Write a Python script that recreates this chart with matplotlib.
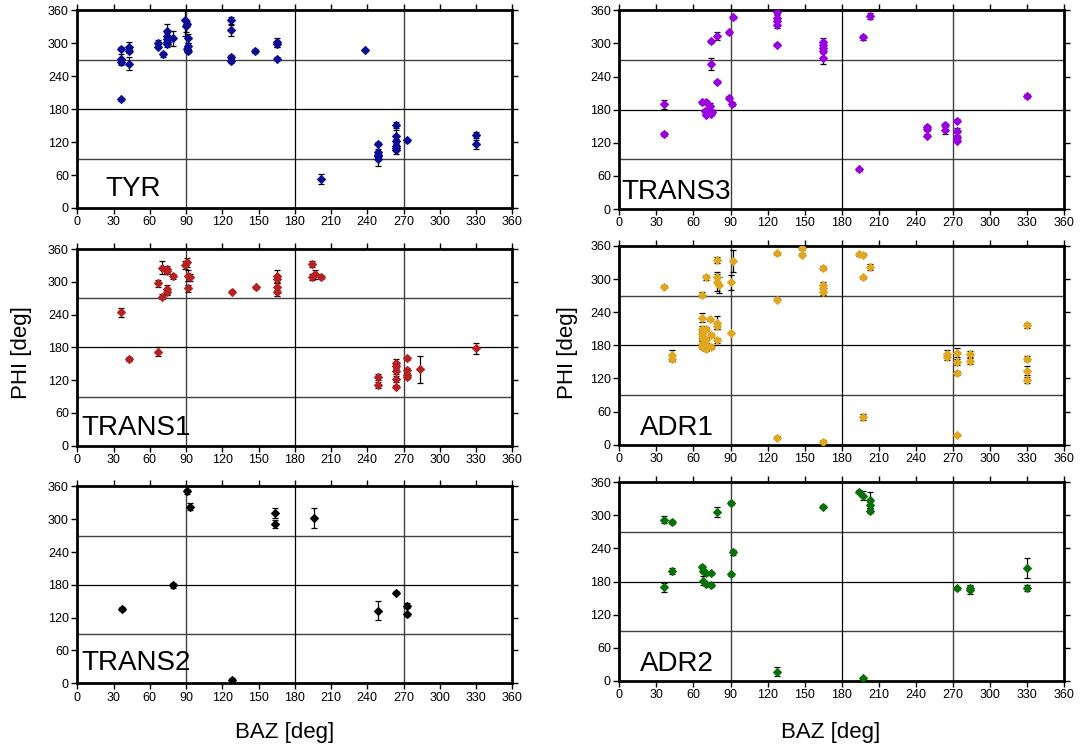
import matplotlib
matplotlib.use('Agg')
import matplotlib.pyplot as plt
import numpy as np

plt.rcParams['font.family'] = ['Liberation Sans', 'DejaVu Sans']

# ---- data: back azimuth, phi, phi error ----
tyr_baz = [36, 36, 36, 36, 43, 43, 43, 67, 67, 71, 74, 74, 74, 74, 74, 79, 89, 90, 91, 92, 92, 91, 92,
           127, 127, 127, 127, 147, 165, 165, 165, 202, 238, 249, 249, 249, 249, 249,
           264, 264, 264, 264, 264, 264, 273, 330, 330]
tyr_phi = [290, 271, 266, 198, 294, 286, 263, 300, 294, 280, 322, 314, 308, 303, 298, 309, 342, 331, 336, 309, 295, 289, 286,
           342, 324, 275, 268, 286, 302, 298, 272, 53, 288, 117, 102, 97, 94, 89,
           151, 132, 122, 113, 110, 106, 123, 133, 116]
tyr_err = [3, 10, 4, 3, 8, 4, 12, 6, 3, 5, 13, 5, 4, 4, 4, 14, 28, 10, 5, 8, 5, 4, 4,
           6, 10, 4, 4, 3, 8, 4, 3, 9, 2, 3, 5, 5, 5, 12,
           5, 10, 4, 4, 5, 8, 3, 5, 8]

trans3_baz = [36, 36, 67, 70, 73, 69, 72, 75, 70, 74, 74, 74, 79, 79, 89, 92, 89, 91,
              128, 128, 128, 128, 128, 165, 165, 165, 165, 165, 194, 197, 203,
              249, 249, 249, 264, 264, 273, 273, 273, 273, 330]
trans3_phi = [190, 136, 193, 194, 187, 177, 177, 176, 171, 173, 263, 304, 313, 231, 320, 347, 201, 190,
              357, 346, 340, 334, 298, 303, 297, 291, 287, 273, 72, 311, 350,
              148, 145, 133, 152, 144, 160, 142, 130, 124, 205]
trans3_err = [8, 3, 3, 3, 5, 5, 5, 4, 3, 3, 11, 3, 7, 3, 3, 2, 4, 3,
              4, 5, 6, 6, 3, 7, 5, 5, 5, 10, 3, 4, 6,
              4, 4, 3, 4, 8, 3, 4, 4, 3, 3]

trans1_baz = [36, 43, 67, 70, 74, 74, 79, 67, 74, 74, 70, 91, 89, 92, 93, 92, 128, 148,
              165, 165, 165, 165, 194, 194, 197, 202, 249, 249, 264, 264, 264, 264, 264,
              273, 273, 273, 273, 284, 330]
trans1_phi = [244, 159, 172, 326, 323, 319, 310, 297, 286, 282, 273, 336, 331, 311, 308, 288, 282, 290,
              310, 305, 291, 282, 333, 309, 314, 309, 126, 111, 152, 146, 137, 122, 108,
              160, 138, 129, 125, 140, 178]
trans1_err = [9, 3, 8, 12, 6, 5, 5, 7, 8, 6, 4, 8, 7, 10, 6, 6, 3, 3,
              12, 6, 6, 8, 5, 5, 8, 3, 5, 5, 6, 5, 5, 6, 3,
              3, 5, 4, 3, 25, 10]

adr1_baz = [36, 43, 43, 67, 70, 79, 79, 81, 79, 92, 90, 90, 67, 73, 79, 79, 67, 70, 67, 74,
            67, 70, 79, 67, 70, 74, 67, 70, 128, 128, 128, 148, 148, 165, 165, 165, 165, 165,
            194, 197, 197, 203, 197, 265, 265, 273, 273, 273, 273, 284, 284, 330, 330, 330, 330]
adr1_phi = [286, 162, 156, 272, 303, 335, 303, 289, 294, 333, 294, 203, 230, 227, 221, 215, 210, 210, 201, 199,
            193, 189, 189, 183, 180, 177, 177, 173, 347, 13, 263, 356, 344, 320, 289, 283, 277, 4,
            345, 344, 303, 322, 50, 164, 158, 167, 150, 130, 17, 164, 152, 216, 156, 134, 117]
adr1_err = [3, 10, 4, 4, 5, 5, 10, 15, 15, 20, 13, 2, 8, 3, 12, 5, 5, 4, 5, 3,
            4, 4, 5, 5, 4, 4, 4, 3, 3, 2, 2, 4, 3, 4, 6, 5, 5, 5,
            3, 3, 3, 5, 5, 7, 5, 8, 6, 4, 2, 6, 5, 5, 4, 8, 5]

trans2_baz = [37, 79, 91, 93, 128, 164, 164, 196, 249, 264, 273, 273]
trans2_phi = [136, 179, 351, 323, 6, 311, 291, 302, 133, 166, 142, 126]
trans2_err = [3, 4, 4, 6, 4, 9, 7, 18, 17, 2, 5, 3]

adr2_baz = [36, 43, 36, 43, 79, 90, 92, 90, 67, 68, 70, 74, 68, 70, 74, 128, 165,
            194, 197, 203, 203, 203, 197, 273, 284, 284, 330, 330]
adr2_phi = [292, 288, 170, 199, 306, 322, 233, 193, 207, 199, 195, 195, 182, 175, 173, 17, 316,
            343, 336, 328, 319, 308, 5, 168, 169, 165, 205, 168]
adr2_err = [6, 3, 8, 5, 9, 4, 4, 3, 3, 3, 3, 3, 8, 3, 3, 8, 3,
            3, 8, 15, 5, 4, 3, 3, 5, 7, 18, 5]

panels = [
    # name, baz, phi, err, colour, axes rect, label pos
    ('TYR', tyr_baz, tyr_phi, tyr_err, '#0d0d94', [0.0712, 0.7216, 0.4010, 0.2645], (23, 22)),
    ('TRANS3', trans3_baz, trans3_phi, trans3_err, '#9a00e0', [0.5708, 0.7202, 0.4099, 0.2660], (2, 18)),
    ('TRANS1', trans1_baz, trans1_phi, trans1_err, '#b52222', [0.0712, 0.4033, 0.4010, 0.2633], (3, 19)),
    ('ADR1', adr1_baz, adr1_phi, adr1_err, '#e0a820', [0.5708, 0.4047, 0.4099, 0.2660], (17, 18)),
    ('TRANS2', trans2_baz, trans2_phi, trans2_err, 'black', [0.0712, 0.0853, 0.4010, 0.2635], (3, 25)),
    ('ADR2', adr2_baz, adr2_phi, adr2_err, '#0a700a', [0.5708, 0.0884, 0.4099, 0.2660], (17, 18)),
]

fig = plt.figure(figsize=(10.85, 7.47), dpi=100)

for name, baz, phi, err, col, rect, lpos in panels:
    ax = fig.add_axes(rect)
    ax.set_xlim(0, 360)
    ax.set_ylim(0, 360)
    # quadrant lines
    for v in (90, 270):
        ax.axhline(v, color='#404040', lw=1.0, zorder=1)
        ax.axvline(v, color='#404040', lw=1.0, zorder=1)
    ax.axhline(180, color='black', lw=0.9, zorder=1)
    ax.axvline(180, color='black', lw=0.9, zorder=1)

    ax.errorbar(baz, phi, yerr=err, fmt='none', ecolor='black', elinewidth=0.9,
                capsize=2.5, capthick=0.9, zorder=2)
    ax.plot(baz, phi, 'D', color=col, markersize=4.5, markeredgecolor=col,
            markeredgewidth=0.8, zorder=3)

    ax.text(lpos[0], lpos[1], name, fontsize=20, ha='left', va='baseline', zorder=4)

    ax.set_xticks(np.arange(0, 361, 30))
    ax.set_yticks(np.arange(0, 361, 60))
    ax.tick_params(direction='out', length=4, width=1, labelsize=9,
                   top=True, right=True, pad=2)
    for s in ax.spines.values():
        s.set_linewidth(2)

fig.text(0.020, 0.528, 'PHI [deg]', rotation=90, fontsize=16, ha='center', va='center')
fig.text(0.523, 0.528, 'PHI [deg]', rotation=90, fontsize=16, ha='center', va='center')
fig.text(0.262, 0.020, 'BAZ [deg]', fontsize=16, ha='center', va='center')
fig.text(0.766, 0.020, 'BAZ [deg]', fontsize=16, ha='center', va='center')

fig.savefig('out.png', dpi=100)
